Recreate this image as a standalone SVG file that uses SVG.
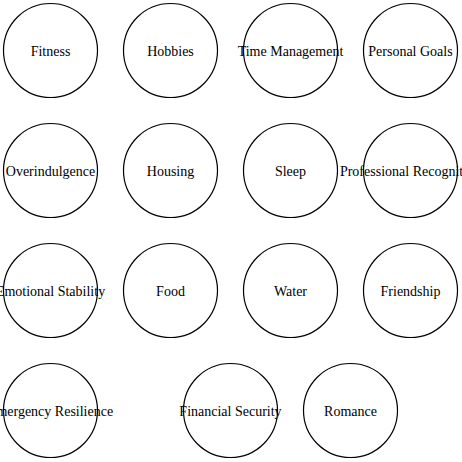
<svg xmlns="http://www.w3.org/2000/svg" width="462" height="462" viewBox="0 0 462 462">
<style>
.n circle{fill:#fff;stroke:#000;stroke-width:1.2}
.n text{font-family:'Liberation Serif','Times New Roman','DejaVu Serif',serif;font-size:14px;text-anchor:middle;fill:#000}
</style>
<rect width="462" height="462" fill="#fff"/>
<g id="connectors"></g>
<g id="fitness" class="n"><circle cx="50.5" cy="50.5" r="47"/><text x="50.5" y="55.5">Fitness</text></g>
<g id="hobbies" class="n"><circle cx="170.5" cy="50.5" r="47"/><text x="170.5" y="55.5">Hobbies</text></g>
<g id="time-management" class="n"><circle cx="290.5" cy="50.5" r="47"/><text x="290.5" y="55.5">Time Management</text></g>
<g id="personal-goals" class="n"><circle cx="410.5" cy="50.5" r="47"/><text x="410.5" y="55.5">Personal Goals</text></g>
<g id="overindulgence" class="n"><circle cx="50.5" cy="170.5" r="47"/><text x="50.5" y="175.5">Overindulgence</text></g>
<g id="housing" class="n"><circle cx="170.5" cy="170.5" r="47"/><text x="170.5" y="175.5">Housing</text></g>
<g id="sleep" class="n"><circle cx="290.5" cy="170.5" r="47"/><text x="290.5" y="175.5">Sleep</text></g>
<g id="professional-recognition" class="n"><circle cx="410.5" cy="170.5" r="47"/><text x="410.5" y="175.5">Professional Recognition</text></g>
<g id="emotional-stability" class="n"><circle cx="50.5" cy="290.5" r="47"/><text x="50.5" y="295.5">Emotional Stability</text></g>
<g id="food" class="n"><circle cx="170.5" cy="290.5" r="47"/><text x="170.5" y="295.5">Food</text></g>
<g id="water" class="n"><circle cx="290.5" cy="290.5" r="47"/><text x="290.5" y="295.5">Water</text></g>
<g id="friendship" class="n"><circle cx="410.5" cy="290.5" r="47"/><text x="410.5" y="295.5">Friendship</text></g>
<g id="emergency-resilience" class="n"><circle cx="50.5" cy="410.5" r="47"/><text x="50.5" y="415.5">Emergency Resilience</text></g>
<g id="financial-security" class="n"><circle cx="230.5" cy="410.5" r="47"/><text x="230.5" y="415.5">Financial Security</text></g>
<g id="romance" class="n"><circle cx="350.5" cy="410.5" r="47"/><text x="350.5" y="415.5">Romance</text></g>
</svg>
